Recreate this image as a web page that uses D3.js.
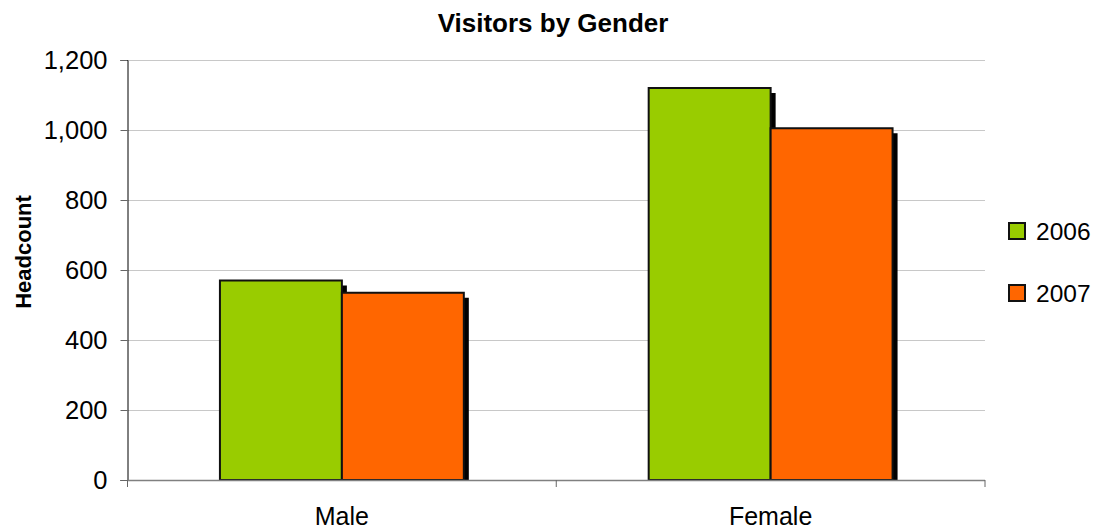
<!DOCTYPE html>
<html>
<head>
<meta charset="utf-8">
<script src="https://cdn.jsdelivr.net/npm/d3@7"></script>
<style>
  html, body { margin: 0; padding: 0; background: #ffffff; }
  svg { display: block; font-family: "Liberation Sans", Arial, sans-serif; }
</style>
</head>
<body>
<svg id="chart" width="1094" height="529"></svg>
<script>
const categories = ["Male", "Female"];
const seriesNames = ["2006", "2007"];
const values2006 = [570, 1120];
const values2007 = [535, 1005];
const yTicks = [0, 200, 400, 600, 800, 1000, 1200];
const seriesColors = ["#99cc00", "#ff6600"];

(function () {
const seriesValues = [values2006, values2007];
const svg = d3.select("#chart");
const pLeft = 127.5, pRight = 985, pTop = 60, pBottom = 480;

const y = d3.scaleLinear().domain([0, 1200]).range([pBottom, pTop]);
const x0 = d3.scaleBand().domain(categories).range([pLeft, pRight]).padding(0);
const x1 = d3.scaleBand().domain(seriesNames).range([0, x0.bandwidth()]).paddingInner(0).paddingOuter(0.758);

// gridlines
svg.append("g").selectAll("line").data(yTicks.filter(d => d > 0)).join("line")
  .attr("x1", pLeft).attr("x2", pRight)
  .attr("y1", d => Math.round(y(d)) + 0.5).attr("y2", d => Math.round(y(d)) + 0.5)
  .attr("stroke", "#c8c8c8").attr("stroke-width", 1);

// bars with shadows
const sh = 5;
seriesNames.forEach((s, si) => {
  const g = svg.append("g");
  categories.forEach((c, ci) => {
    const v = seriesValues[si][ci];
    const bx = x0(c) + x1(s);
    const bw = x1.bandwidth();
    const by = y(v);
    g.append("rect")
      .attr("x", bx + sh).attr("y", by + sh)
      .attr("width", bw).attr("height", y(0) - by - sh)
      .attr("fill", "#000");
    g.append("rect")
      .attr("x", bx).attr("y", by)
      .attr("width", bw).attr("height", y(0) - by)
      .attr("fill", seriesColors[si])
      .attr("stroke", "#111").attr("stroke-width", 2);
  });
});

// y axis
const yAxis = d3.axisLeft(y).tickValues(yTicks).tickSize(7).tickPadding(13)
  .tickFormat(d3.format(","));
const ya = svg.append("g").attr("transform", `translate(${pLeft},0)`).call(yAxis);
ya.select(".domain").attr("stroke", "#000");
ya.selectAll(".tick line").attr("stroke", "#666");
ya.selectAll("text").attr("font-size", 25.5).attr("fill", "#000")
  .attr("font-family", "'Liberation Sans', Arial, sans-serif");

// x axis
const xa = svg.append("g").attr("transform", `translate(0,${pBottom})`);
xa.append("line").attr("x1", pLeft).attr("x2", pRight).attr("y1", 0.5).attr("y2", 0.5)
  .attr("stroke", "#808080").attr("stroke-width", 1.5);
const bounds = [pLeft, ...categories.map(c => x0(c) + x0.bandwidth())];
xa.selectAll("line.tk").data(bounds).join("line").attr("class", "tk")
  .attr("x1", d => d).attr("x2", d => d).attr("y1", 0).attr("y2", 7)
  .attr("stroke", "#666");
xa.selectAll("text").data(categories).join("text")
  .attr("x", d => x0(d) + x0.bandwidth() / 2).attr("y", 45)
  .attr("text-anchor", "middle").attr("font-size", 25).attr("fill", "#000")
  .text(d => d);

// title
svg.append("text").attr("x", 553).attr("y", 32).attr("text-anchor", "middle")
  .attr("font-size", 26).attr("font-weight", "bold").text("Visitors by Gender");

// y axis title
svg.append("text").attr("transform", "translate(31,252) rotate(-90)")
  .attr("text-anchor", "middle").attr("font-size", 22).attr("font-weight", "bold")
  .text("Headcount");

// legend
const lg = svg.append("g");
seriesNames.forEach((s, i) => {
  const ly = 231 + i * 62;
  lg.append("rect").attr("x", 1009).attr("y", ly - 8).attr("width", 16).attr("height", 16)
    .attr("fill", seriesColors[i]).attr("stroke", "#111").attr("stroke-width", 2);
  lg.append("text").attr("x", 1036).attr("y", ly + 8.5).attr("font-size", 24.5).text(s);
});
})();
</script>
</body>
</html>
